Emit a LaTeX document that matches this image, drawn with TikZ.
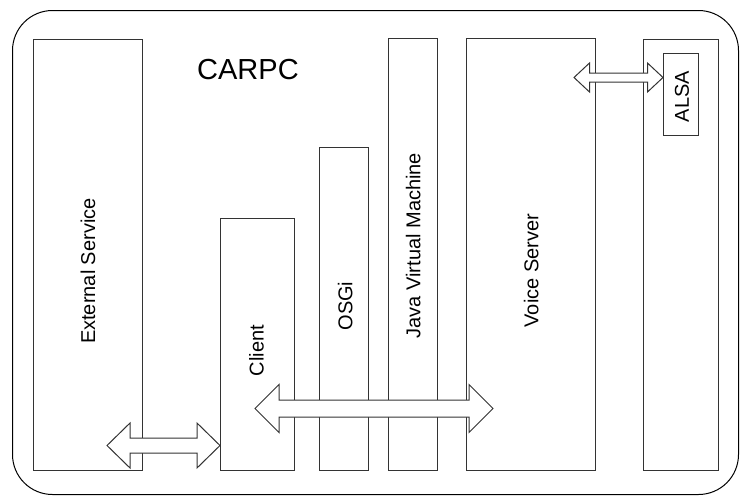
\documentclass[tikz,border=0pt]{standalone}
\usepackage{fontspec}
\setmainfont{Liberation Sans}
\usepackage{tikz}
\usetikzlibrary{positioning,calc}
\definecolor{boxline}{RGB}{51,51,51}

\tikzset{
  layer/.style={draw=boxline,line width=1.2pt,rectangle,inner sep=0pt,anchor=north west},
  vlabel/.style={rotate=90,font=\fontsize{20}{24}\selectfont,inner sep=0pt},
  fatarrow/.style={draw=boxline,line width=1pt,fill=white,line join=miter}
}
% double block arrow: left tip, right tip, half shaft, half head, head length
\newcommand{\dblarrow}[5]{%
  \draw[fatarrow] let \p1=(#1), \p2=(#2) in
    (\x1,\y1) -- (\x1+#5,\y1+#4) -- (\x1+#5,\y1+#3) -- (\x2-#5,\y1+#3)
    -- (\x2-#5,\y1+#4) -- (\x2,\y1) -- (\x2-#5,\y1-#4) -- (\x2-#5,\y1-#3)
    -- (\x1+#5,\y1-#3) -- (\x1+#5,\y1-#4) -- cycle;}

\begin{document}
\begin{tikzpicture}[x=1pt,y=-1pt]
  \useasboundingbox (0,0) rectangle (740,496);

  \node[draw=black,line width=1pt,rounded corners=40pt,minimum width=726pt,
        minimum height=484pt,anchor=north west,inner sep=0pt] (carpc) at (12,10) {};
  \node[font=\fontsize{29}{34}\selectfont,anchor=base west,inner sep=0pt] (title) at (197,79) {CARPC};

  % layers
  \node[layer,minimum width=109pt,minimum height=431pt] (ext) at (33,39) {};
  \node[layer,minimum width=74pt,minimum height=252pt] (client) at (220,218) {};
  \node[layer,minimum width=49pt,minimum height=323pt] (osgi) at (319,147) {};
  \node[layer,minimum width=49pt,minimum height=432pt] (jvm) at (388,38) {};
  \node[layer,minimum width=129pt,minimum height=432pt] (voice) at (466,38) {};
  \node[layer,minimum width=75pt,minimum height=431pt] (sound) at (643,39) {};
  \node[layer,minimum width=35pt,minimum height=82pt] (alsa) at (663,53) {};

  \node[vlabel] at ($(ext.center)+(0,16)$) {External Service};
  \node[vlabel] at ($(client.center)+(-1,6)$) {Client};
  \node[vlabel] at ($(osgi.center)+(1,-3)$) {OSGi};
  \node[vlabel] at ($(jvm.center)+(0,-9)$) {Java Virtual Machine};
  \node[vlabel] at ($(voice.center)+(0,16)$) {Voice Server};
  \node[vlabel] at ($(alsa.center)+(1,2)$) {ALSA};

  % connections
  \coordinate (extport) at (107,445.5);
  \coordinate (clientport) at (client.west |- extport);
  \coordinate (busL) at (255,408.5);
  \coordinate (busR) at (493,408.5);
  \coordinate (voiceport) at (574,77.5);
  \coordinate (alsaport) at (alsa.west |- voiceport);

  \dblarrow{extport}{clientport}{7.5pt}{22.5pt}{23pt}
  \dblarrow{busL}{busR}{8.5pt}{24pt}{24pt}
  \dblarrow{voiceport}{alsaport}{4.5pt}{14.5pt}{15.5pt}
\end{tikzpicture}
\end{document}
